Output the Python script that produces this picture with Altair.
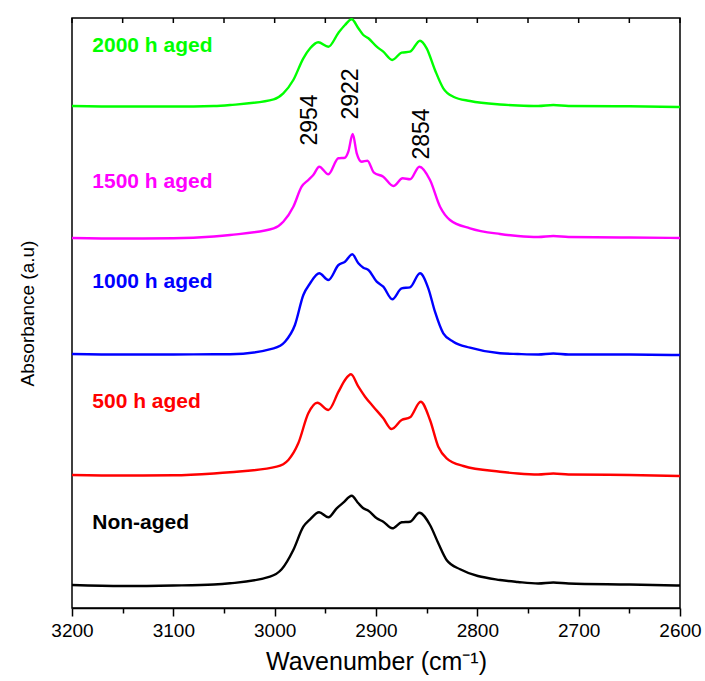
import altair as alt
import pandas as pd

# ---- data (wavenumber, absorbance a.u., vertically offset spectra) ----
wn_2000 = [3200, 3150, 3100, 3060, 3044, 3001, 2991.5, 2981.6, 2971.7, 2965, 2957, 2947, 2937, 2930.6,
           2924, 2917.4, 2912.5, 2907.5, 2899.3, 2892.8, 2884, 2874.7, 2866.4, 2856.6, 2850, 2841.8,
           2833.6, 2823.7, 2807.2, 2777.6, 2760, 2740, 2725, 2710, 2650, 2600]
ab_2000 = [5.02, 5.015, 5.015, 5.02, 5.03, 5.087, 5.147, 5.28, 5.497, 5.597, 5.657, 5.613, 5.753, 5.83,
           5.887, 5.797, 5.73, 5.697, 5.613, 5.563, 5.48, 5.553, 5.563, 5.673, 5.597, 5.38,
           5.197, 5.113, 5.07, 5.035, 5.025, 5.02, 5.03, 5.02, 5.017, 5.01]

wn_1500 = [3200, 3150, 3100, 3060, 3044, 3001, 2991.5, 2981.6, 2973.4, 2966.8, 2961.9, 2956, 2947, 2937.2,
           2930.6, 2927.3, 2923, 2919, 2914.1, 2908.5, 2902, 2892.8, 2882.9, 2873.7, 2866.4, 2857.2,
           2846.7, 2836.8, 2827, 2807.2, 2777.6, 2760, 2740, 2725, 2710, 2650, 2600]
ab_1500 = [3.70, 3.695, 3.697, 3.715, 3.73, 3.797, 3.863, 4.013, 4.213, 4.28, 4.33, 4.413, 4.337, 4.497,
           4.503, 4.563, 4.74, 4.547, 4.463, 4.473, 4.353, 4.313, 4.22, 4.297, 4.287, 4.413,
           4.28, 4.013, 3.88, 3.797, 3.74, 3.72, 3.71, 3.72, 3.71, 3.705, 3.70]

wn_1000 = [3200, 3150, 3100, 3060, 3044, 3001, 2989.8, 2980, 2971.7, 2965, 2956, 2947, 2937, 2930.6,
           2923.4, 2917.4, 2912.5, 2907.5, 2899.3, 2892.8, 2883.9, 2874.7, 2866.4, 2856.6, 2848.4,
           2841.8, 2833.6, 2823.7, 2807.2, 2777.6, 2760, 2740, 2725, 2710, 2650, 2600]
ab_1000 = [2.54, 2.535, 2.535, 2.537, 2.537, 2.597, 2.663, 2.83, 3.13, 3.247, 3.347, 3.28, 3.43, 3.463,
           3.537, 3.447, 3.403, 3.38, 3.263, 3.213, 3.087, 3.197, 3.207, 3.347, 3.197,
           2.963, 2.747, 2.663, 2.603, 2.547, 2.54, 2.535, 2.545, 2.535, 2.535, 2.53]

wn_500 = [3200, 3150, 3100, 3060, 3044, 2998, 2986.5, 2976.7, 2966.8, 2957.9, 2947, 2937, 2930.6, 2924.7,
          2917.4, 2910.8, 2902.6, 2892.8, 2884.6, 2874.7, 2866.4, 2855.9, 2846.7, 2838.5, 2830.3,
          2813.8, 2777.6, 2760, 2740, 2725, 2710, 2650, 2600]
ab_500 = [1.33, 1.325, 1.327, 1.345, 1.357, 1.413, 1.48, 1.647, 1.947, 2.053, 1.98, 2.163, 2.28, 2.337,
          2.213, 2.113, 2.013, 1.897, 1.79, 1.88, 1.907, 2.063, 1.88, 1.613, 1.497,
          1.42, 1.363, 1.345, 1.335, 1.345, 1.335, 1.33, 1.32]

wn_0 = [3200, 3150, 3100, 3060, 3044, 3004.6, 2993.1, 2981.6, 2971.7, 2965, 2956.2, 2947, 2938.8, 2932.3,
        2924, 2917.4, 2912.5, 2907.5, 2899.3, 2892.8, 2883.9, 2874.7, 2866.4, 2857.2, 2846.7, 2838.5,
        2830.3, 2817, 2777.6, 2760, 2740, 2725, 2710, 2650, 2600]
ab_0 = [0.23, 0.22, 0.225, 0.235, 0.247, 0.313, 0.387, 0.58, 0.813, 0.887, 0.957, 0.907, 0.997, 1.053,
        1.123, 1.047, 0.997, 0.973, 0.897, 0.863, 0.797, 0.857, 0.863, 0.953, 0.83, 0.647,
        0.48, 0.387, 0.28, 0.26, 0.245, 0.255, 0.245, 0.235, 0.225]

series_names = ["Non-aged", "500 h aged", "1000 h aged", "1500 h aged", "2000 h aged"]
series_colors = ["#000000", "#ff0000", "#0000ff", "#ff00ff", "#00ff00"]
label_wn = [3180, 3180, 3180, 3180, 3180]
label_ab = [0.85, 2.06, 3.26, 4.26, 5.62]

peak_text = ["2954", "2922", "2854"]
peak_wn = [2965, 2924.7, 2854.6]
peak_ab = [4.88, 5.14, 4.74]

x_ticks = list(range(2600, 3201, 50))

# ---- tables ----
rows = []
for name, wns, vals in zip(series_names, [wn_0, wn_500, wn_1000, wn_1500, wn_2000],
                           [ab_0, ab_500, ab_1000, ab_1500, ab_2000]):
    for w, a in zip(wns, vals):
        rows.append({"series": name, "wn": w, "ab": a})
df = pd.DataFrame(rows)
labels_df = pd.DataFrame({"series": series_names, "wn": label_wn, "ab": label_ab})
peaks_df = pd.DataFrame({"txt": peak_text, "wn": peak_wn, "ab": peak_ab})
ticks_df = pd.DataFrame({"wn": x_ticks})

W, H = 608, 590
FONT = "Liberation Sans"
NARROW = "Liberation Sans Narrow, Arial Narrow, Liberation Sans"
x_scale = alt.Scale(domain=[2600, 3200], reverse=True, nice=False, zero=False)
y_scale = alt.Scale(domain=[0, 5.9], nice=False, zero=False)
c_scale = alt.Scale(domain=series_names, range=series_colors)

x_axis = alt.Axis(
    values=x_ticks, format="d",
    labelExpr="datum.value % 100 === 0 ? datum.label : ''",
    tickSize={"condition": {"test": "datum.value % 100 === 0", "value": 8}, "value": 5},
    tickColor="black", tickWidth=1.5, domainColor="black", domainWidth=1.5,
    labelFont=FONT, labelFontSize=19, labelColor="black", labelPadding=5,
    title="Wavenumber (cm⁻¹)", titleFont=FONT, titleFontSize=25, titleFontWeight="normal",
    titleColor="black", titlePadding=9, grid=False, labelFlush=False,
)
y_axis = alt.Axis(
    labels=False, ticks=False, domain=False, grid=False,
    title="Absorbance (a.u)", titleFont=NARROW,
    titleFontSize=19, titleFontWeight="normal", titleColor="black", titlePadding=35,
)

X = alt.X("wn:Q", scale=x_scale, axis=x_axis)
Y = alt.Y("ab:Q", scale=y_scale, axis=y_axis)

lines = alt.Chart(df).mark_line(strokeWidth=2.4, interpolate="monotone").encode(
    x=X, y=Y,
    color=alt.Color("series:N", scale=c_scale, legend=None),
)

top_ticks = alt.Chart(ticks_df).mark_rule(color="black", strokeWidth=1.5).encode(
    x=X, y=alt.value(0), y2=alt.value(5),
)

labels = alt.Chart(labels_df).mark_text(
    align="left", baseline="middle", font=FONT, fontSize=21, fontWeight="bold"
).encode(
    x=X, y=Y,
    color=alt.Color("series:N", scale=c_scale, legend=None),
    text="series:N",
)

peaks = alt.Chart(peaks_df).mark_text(
    angle=270, align="center", baseline="middle",
    font=NARROW, fontSize=23, color="black"
).encode(
    x=X, y=Y,
    text="txt:N",
)

chart = alt.layer(lines, top_ticks, labels, peaks).properties(
    width=W, height=H,
    autosize=alt.AutoSizeParams(type="none"),
    padding={"left": 72, "top": 18, "right": 25, "bottom": 73},
    background="white",
).configure_view(stroke="black", strokeWidth=1.5)

chart.save("out.html", embed_options={"renderer": "svg", "actions": False})
